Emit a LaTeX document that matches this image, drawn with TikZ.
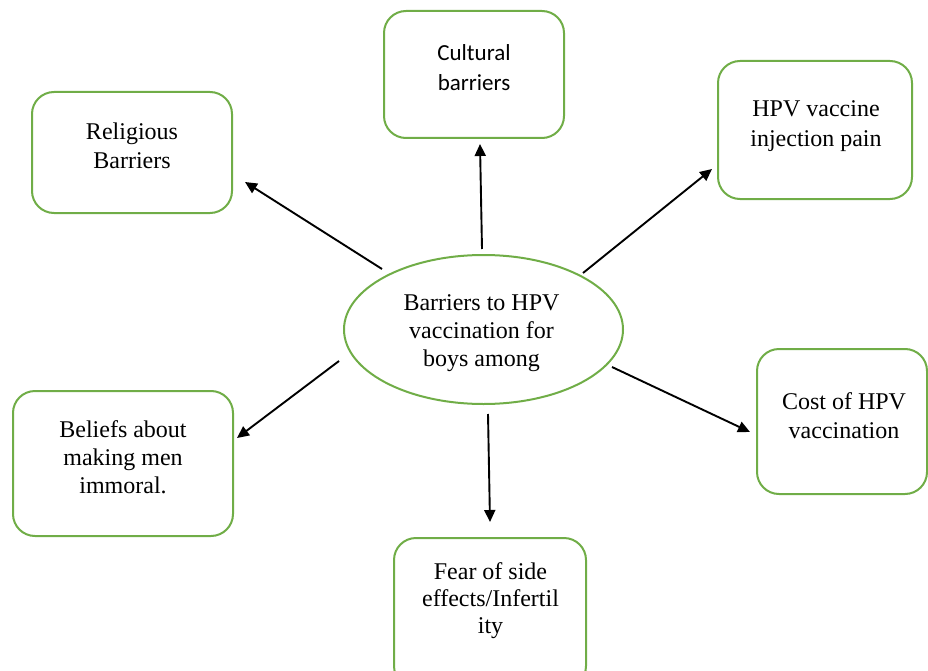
\documentclass[tikz,border=0pt]{standalone}
\usepackage{fontspec}
\setmainfont{Liberation Serif}
\newfontfamily\calib{Carlito}
\usetikzlibrary{arrows.meta,shapes.geometric}
\definecolor{offgreen}{RGB}{112,173,71}
\begin{document}
\begin{tikzpicture}[x=1pt,y=-1pt,
  box/.style={draw=offgreen,line width=2pt,rounded corners=22pt,inner sep=0pt,fill=none},
  oval/.style={draw=offgreen,line width=2pt,ellipse,inner sep=0pt},
  txt/.style={inner sep=0pt,anchor=north,align=center,font=\fontsize{24}{#1}\selectfont},
  arr/.style={line width=1.9pt,-{Triangle[length=12pt,width=11pt]}}]
\useasboundingbox (0,0) rectangle (928,671);
% boxes
\node[box,minimum width=200pt,minimum height=121pt] (rel) at (132,152.5) {};
\node[box,minimum width=180pt,minimum height=127pt] (cul) at (474,74.5) {};
\node[box,minimum width=194pt,minimum height=138pt] (hpv) at (815,130) {};
\node[box,minimum width=170pt,minimum height=145pt] (cost) at (842,421.5) {};
\node[box,minimum width=220pt,minimum height=145pt] (bel) at (123,463.5) {};
\node[box,minimum width=192pt,minimum height=150pt] (fear) at (490,613) {};
\node[oval,minimum width=279pt,minimum height=149pt] (ctr) at (483.5,329.5) {};
% texts
\node[txt=29] (relt) at (132,122.5) {Religious\\Barriers};
\node[inner sep=0pt,anchor=north,align=center,font=\calib\fontsize{23}{30}\selectfont] (cult) at (474,44) {Cultural\\barriers};
\node[txt=30] (hpvt) at (816,100.5) {HPV vaccine\\injection pain};
\node[txt=29] (costt) at (844,392.5) {Cost of HPV\\vaccination};
\node[txt=28] (belt) at (123,420.5) {Beliefs about\\making men\\immoral.};
\node[txt=28] (ctrt) at (481.5,294.5) {Barriers to HPV\\vaccination for\\boys among};
\node[txt=27] (feart) at (490.5,562.5) {Fear of side\\effects/Infertil\\ity};
% connector ends
\coordinate (s1) at (382,269); \coordinate (e1) at (245,182);
\coordinate (s2) at (482,249); \coordinate (e2) at (480,144);
\coordinate (s3) at (583,273); \coordinate (e3) at (712,169);
\coordinate (s4) at (612,367); \coordinate (e4) at (750,432);
\coordinate (s5) at (339,361); \coordinate (e5) at (237,438);
\coordinate (s6) at (488,414); \coordinate (e6) at (490,522);
\draw[arr] (s1) -- (e1);
\draw[arr] (s2) -- (e2);
\draw[arr] (s3) -- (e3);
\draw[arr] (s4) -- (e4);
\draw[arr] (s5) -- (e5);
\draw[arr] (s6) -- (e6);
\end{tikzpicture}
\end{document}
